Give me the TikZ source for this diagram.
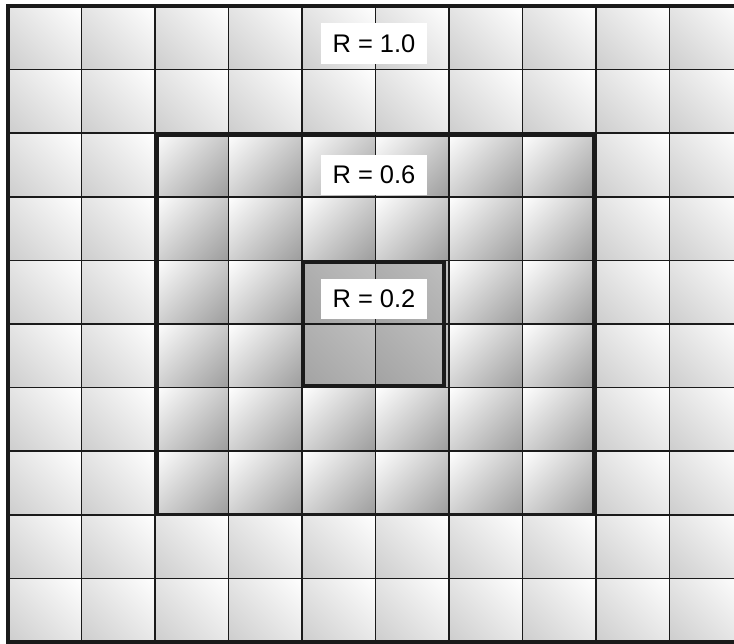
\documentclass[tikz,border=0pt]{standalone}
\usepackage{fontspec}
\setmainfont{Liberation Sans}
\usepackage{tikz}
\usepackage{xcolor}
\usetikzlibrary{positioning}
\definecolor{Ink}{HTML}{1A1A1A}
\definecolor{OuterGray}{HTML}{CDCDCD}
\definecolor{RingGray}{HTML}{9C9C9C}
\definecolor{CoreLight}{HTML}{C0C0C0}
\definecolor{CoreDark}{HTML}{A2A2A2}
\pgfdeclareverticalshading{outerfade}{100bp}{color(0bp)=(OuterGray); color(14.6bp)=(OuterGray); color(85.4bp)=(white); color(100bp)=(white)}
\pgfdeclareverticalshading{ringfade}{100bp}{color(0bp)=(RingGray); color(14.6bp)=(RingGray); color(85.4bp)=(white); color(100bp)=(white)}
\pgfdeclareverticalshading{corefade}{100bp}{color(0bp)=(CoreDark); color(14.6bp)=(CoreDark); color(85.4bp)=(CoreLight); color(100bp)=(CoreLight)}

\begin{document}
\begin{tikzpicture}[
  x=0.02cm,y=-0.02cm,
  outer/.style={shading=outerfade,shading angle=-45},
  ring/.style={shading=ringfade,shading angle=45},
  core/.style={shading=corefade,shading angle=-45},
  gridline/.style={draw=Ink,line width=0.85pt},
  frame/.style={draw=Ink,line width=1.8pt},
  tag/.style={fill=white,inner sep=0pt,minimum width=60pt,minimum height=23.2pt,font=\fontsize{14.5}{17}\selectfont}
]
\useasboundingbox (0,0) rectangle (734,644);
\clip (0,0) rectangle (734,644);
\fill[white] (0,0) rectangle (734,644);
% cells
\foreach \i in {0,...,9}
  \foreach \j in {0,...,9}
    \shade[outer] ({8+\i*73.5},{6+\j*63.6}) rectangle +(73.5,63.6);
\foreach \i in {2,...,7}
  \foreach \j in {2,...,7}
    \shade[ring] ({8+\i*73.5},{6+\j*63.6}) rectangle +(73.5,63.6);
\foreach \i in {4,5}
  \foreach \j in {4,5}
    \shade[core] ({8+\i*73.5},{6+\j*63.6}) rectangle +(73.5,63.6);
% grid
\foreach \i in {1,...,9}
  \draw[gridline] ({8+\i*73.5},6) -- ({8+\i*73.5},642);
\foreach \j in {1,...,9}
  \draw[gridline] (8,{6+\j*63.6}) -- (743,{6+\j*63.6});
\draw[frame] (8,6) rectangle (743,642);
% regions
\draw[frame] (157,135.5) rectangle (593.5,514.5);
\draw[frame] (303.5,262) rectangle (444,386);
\node[tag] (r10) at (374,43.5) {R = 1.0};
\node[tag] (r06) at (374,175) {R = 0.6};
\node[tag] (r02) at (374,299) {R = 0.2};
\end{tikzpicture}
\end{document}
